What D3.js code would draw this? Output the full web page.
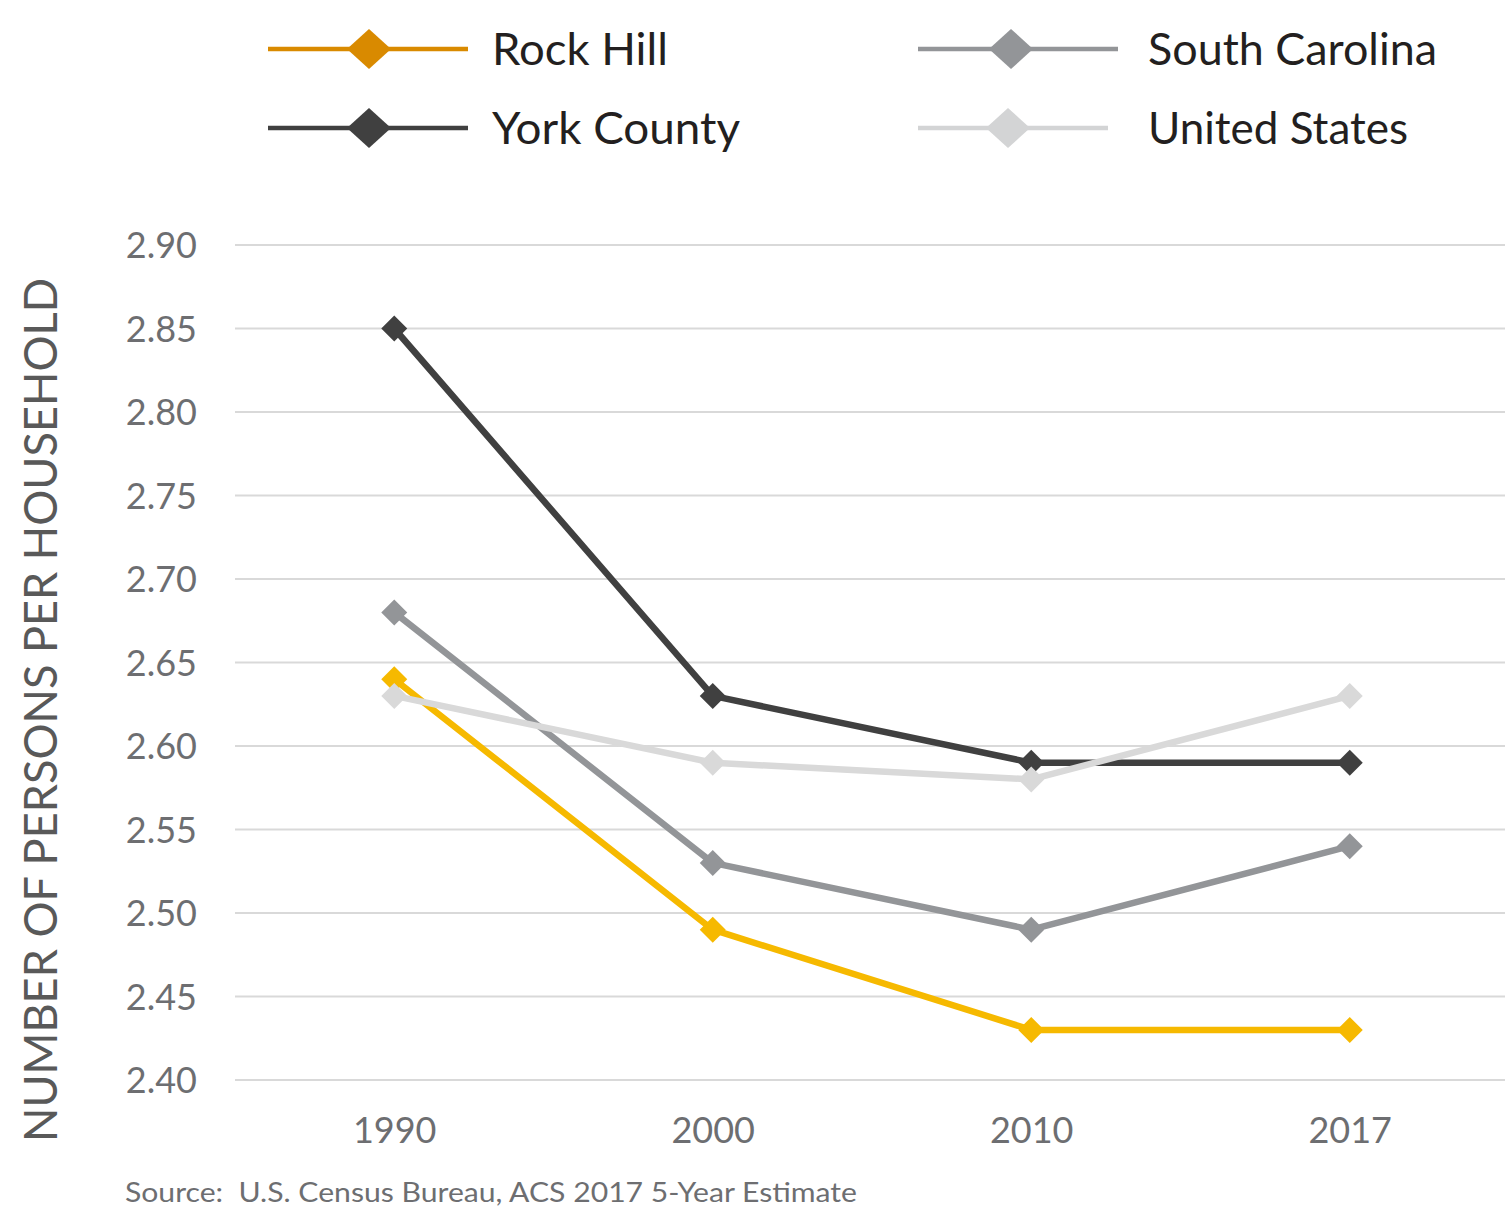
<!DOCTYPE html>
<html>
<head>
<meta charset="utf-8">
<script src="https://cdn.jsdelivr.net/npm/d3@7"></script>
<style>
  html, body { margin: 0; padding: 0; background: #fff; }
  svg { display: block; font-family: Lato, "Open Sans", sans-serif; }
</style>
</head>
<body>
<svg id="chart" width="1505" height="1210"></svg>
<script>
// Persons per household, census years
const years = ["1990", "2000", "2010", "2017"];
const rockHill      = [2.64, 2.49, 2.43, 2.43];
const southCarolina = [2.68, 2.53, 2.49, 2.54];
const yorkCounty    = [2.85, 2.63, 2.59, 2.59];
const unitedStates  = [2.63, 2.59, 2.58, 2.63];
const yTicks = [2.40, 2.45, 2.50, 2.55, 2.60, 2.65, 2.70, 2.75, 2.80, 2.85, 2.90];

const series = [
  { name: "Rock Hill",      values: rockHill,      color: "#F6B900", legendColor: "#D98A00" },
  { name: "South Carolina", values: southCarolina, color: "#939598", legendColor: "#939598" },
  { name: "York County",    values: yorkCounty,    color: "#404040", legendColor: "#404040" },
  { name: "United States",  values: unitedStates,  color: "#D9D9D9", legendColor: "#D3D4D5" }
];

const svg = d3.select("#chart");
const plot = { left: 235, right: 1509, top: 245, bottom: 1080 };

const x = d3.scalePoint().domain(years).range([plot.left, plot.right]).padding(0.5);
const y = d3.scaleLinear().domain([2.40, 2.90]).range([plot.bottom, plot.top]);

// Horizontal gridlines
svg.append("g")
  .selectAll("line")
  .data(yTicks)
  .join("line")
  .attr("x1", plot.left).attr("x2", 1505)
  .attr("y1", d => y(d)).attr("y2", d => y(d))
  .attr("stroke", "#D9D9D9").attr("stroke-width", 2);

// Y axis labels
const yAxis = svg.append("g")
  .attr("transform", `translate(${plot.left - 38},1)`)
  .call(d3.axisLeft(y).tickValues(yTicks).tickFormat(d3.format(".2f")).tickSize(0).tickPadding(0));
yAxis.select(".domain").remove();
yAxis.selectAll("text")
  .attr("font-family", "Lato, sans-serif")
  .attr("font-size", 36)
  .attr("fill", "#6D6E71");

// X axis labels
const xAxis = svg.append("g")
  .attr("transform", `translate(0,${plot.bottom + 37})`)
  .call(d3.axisBottom(x).tickSize(0).tickPadding(0));
xAxis.select(".domain").remove();
xAxis.selectAll("text")
  .attr("font-family", "Lato, sans-serif")
  .attr("font-size", 36)
  .attr("fill", "#6D6E71");

// Y axis title
svg.append("text")
  .attr("transform", `translate(57,${(278 + 1142) / 2}) rotate(-90)`)
  .attr("text-anchor", "middle")
  .attr("font-size", 46)
  .attr("fill", "#595959")
  .attr("textLength", 864)
  .attr("lengthAdjust", "spacingAndGlyphs")
  .text("NUMBER OF PERSONS PER HOUSEHOLD");

// Source note
svg.append("text")
  .attr("x", 125).attr("y", 1202)
  .attr("font-size", 27)
  .attr("fill", "#6D6E71")
  .attr("textLength", 732)
  .attr("lengthAdjust", "spacingAndGlyphs")
  .style("white-space", "pre")
  .text("Source:  U.S. Census Bureau, ACS 2017 5-Year Estimate");

const line = d3.line().x((d, i) => x(years[i])).y(d => y(d));
const diamond = (r) => `M0,${-r}L${r},0L0,${r}L${-r},0Z`;

// Series lines and diamond markers
const drawOrder = ["Rock Hill", "South Carolina", "York County", "United States"];
drawOrder.forEach(name => {
  const s = series.find(d => d.name === name);
  const g = svg.append("g");
  g.append("path")
    .attr("d", line(s.values))
    .attr("fill", "none")
    .attr("stroke", s.color)
    .attr("stroke-width", 6.5)
    .attr("stroke-linejoin", "round");
  g.selectAll("path.marker")
    .data(s.values)
    .join("path")
    .attr("class", "marker")
    .attr("transform", (d, i) => `translate(${x(years[i])},${y(d)})`)
    .attr("d", diamond(13))
    .attr("fill", s.color);
});

// Legend
const legendItems = [
  { name: "Rock Hill",      lx: 268, lw: 200, my: 49,  mx: 369,  text: 492,  tl: 176 },
  { name: "South Carolina", lx: 918, lw: 200, my: 49,  mx: 1011, text: 1148, tl: 289 },
  { name: "York County",    lx: 268, lw: 200, my: 128, mx: 369,  text: 492,  tl: 248 },
  { name: "United States",  lx: 918, lw: 190, my: 128, mx: 1008, text: 1148, tl: 260 }
];
const legend = svg.append("g");
legendItems.forEach(it => {
  const s = series.find(d => d.name === it.name);
  legend.append("line")
    .attr("x1", it.lx).attr("x2", it.lx + it.lw)
    .attr("y1", it.my).attr("y2", it.my)
    .attr("stroke", s.legendColor).attr("stroke-width", 4.5);
  legend.append("path")
    .attr("transform", `translate(${it.mx},${it.my})`)
    .attr("d", `M0,-20L22,0L0,20L-22,0Z`)
    .attr("fill", s.legendColor);
  legend.append("text")
    .attr("x", it.text).attr("y", it.my + 16)
    .attr("font-size", 45)
    .attr("fill", "#231F20")
    .attr("textLength", it.tl)
    .attr("lengthAdjust", "spacingAndGlyphs")
    .text(it.name);
});
</script>
</body>
</html>
